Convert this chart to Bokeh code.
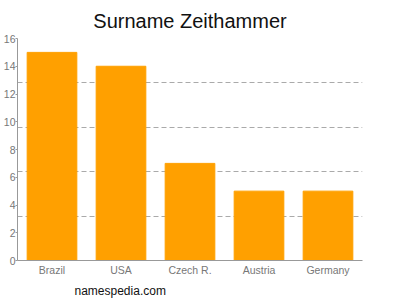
from bokeh.plotting import figure
from bokeh.models import FixedTicker, Title
from bokeh.embed import file_html
from bokeh.resources import INLINE

countries = ["Brazil", "USA", "Czech R.", "Austria", "Germany"]
counts = [15, 14, 7, 5, 5]
y_ticks = [0, 2, 4, 6, 8, 10, 12, 14, 16]
grid_lines = [3.2, 6.4, 9.6, 12.8, 16]
title_text = "Surname Zeithammer"
source_text = "namespedia.com"

FONT = "Liberation Sans"

p = figure(x_range=countries, y_range=(0, 16), width=400, height=300,
           output_backend="svg", toolbar_location=None,
           min_border_left=0, min_border_right=38,
           min_border_top=0, min_border_bottom=0)
p.vbar(x=countries, top=counts, width=0.72, color="#FFA000")

p.outline_line_color = None
p.xgrid.grid_line_color = None
p.ygrid.ticker = FixedTicker(ticks=grid_lines)
p.ygrid.grid_line_color = "#aaaaaa"
p.ygrid.grid_line_dash = "5 3"

p.yaxis.ticker = FixedTicker(ticks=y_ticks)
for ax in (p.xaxis[0], p.yaxis[0]):
    ax.axis_line_color = "#999999"
    ax.major_label_text_color = "#777777"
    ax.major_label_text_font = FONT
    ax.major_label_text_font_size = "10.5px"
    ax.minor_tick_line_color = None
    ax.major_tick_line_color = "#999999"
p.xaxis.major_tick_line_color = None
p.xaxis.major_tick_out = 0
p.xaxis.major_tick_in = 0
p.xaxis.major_label_standoff = 3
p.yaxis.major_tick_out = 2
p.yaxis.major_tick_in = 0
p.yaxis.major_label_standoff = 0

p.title.text = title_text
p.title.text_font = FONT
p.title.text_font_size = "20px"
p.title.text_font_style = "normal"
p.title.text_color = "#111111"
p.title.align = "center"
p.title.offset = 0
p.title.standoff = 14

src = Title(text=source_text, text_font=FONT, text_font_size="12px",
            text_font_style="normal", text_color="#111111", align="left",
            offset=57, standoff=6)
p.add_layout(src, "below")

open("out.html", "w").write(file_html(p, INLINE))
